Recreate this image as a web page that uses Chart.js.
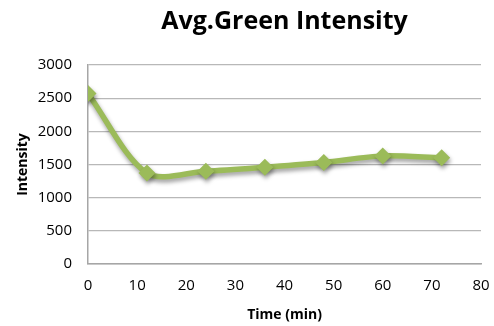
<!DOCTYPE html>
<html>
<head>
<meta charset="utf-8">
<script src="https://cdn.jsdelivr.net/npm/chart.js@4.4.1/dist/chart.umd.min.js"></script>
<style>
  html, body { margin: 0; padding: 0; background: #ffffff; }
  #wrap { width: 494px; height: 326px; }
</style>
</head>
<body>
<div id="wrap"><canvas id="chart" width="494" height="326"></canvas></div>
<script>
// Average green intensity over time
const timeMin = [0, 12, 24, 36, 48, 60, 72];
const avgGreen = [2570, 1370, 1400, 1460, 1530, 1630, 1600];
const xTicks = [0, 10, 20, 30, 40, 50, 60, 70, 80];
const yTicks = [0, 500, 1000, 1500, 2000, 2500, 3000];

const GREEN = '#9bbb59';
const FONT = '"Open Sans", Lato, sans-serif';

// soft drop shadow under the series line and markers
const seriesShadow = {
  id: 'seriesShadow',
  beforeDatasetsDraw(chart) {
    const ctx = chart.ctx;
    ctx.save();
    ctx.shadowColor = 'rgba(0,0,0,0.38)';
    ctx.shadowBlur = 4;
    ctx.shadowOffsetX = 1;
    ctx.shadowOffsetY = 3;
  },
  afterDatasetsDraw(chart) {
    chart.ctx.restore();
  }
};

new Chart(document.getElementById('chart'), {
  type: 'line',
  data: {
    datasets: [{
      label: 'Avg. Green',
      data: timeMin.map((t, i) => ({ x: t, y: avgGreen[i] })),
      borderColor: GREEN,
      backgroundColor: GREEN,
      borderWidth: 5.5,
      tension: 0.3,
      pointStyle: 'rectRot',
      pointRadius: 8.5,
      pointHoverRadius: 8.5,
      pointBorderWidth: 0,
      pointBackgroundColor: GREEN,
      fill: false
    }]
  },
  options: {
    responsive: false,
    animation: false,
    events: [],
    layout: { padding: { top: 0, right: 13, bottom: 0, left: 0 } },
    plugins: {
      legend: { display: false },
      tooltip: { enabled: false },
      title: {
        display: true,
        fullSize: false,
        text: 'Avg.Green Intensity',
        color: '#000000',
        font: { family: FONT, size: 25, weight: 'bold', lineHeight: 1.2 },
        padding: { top: 7, bottom: 28 }
      }
    },
    scales: {
      x: {
        type: 'linear',
        min: 0,
        max: 80,
        afterBuildTicks(scale) { scale.ticks = xTicks.map(v => ({ value: v })); },
        afterFit(scale) {
          scale.height = 62;
          scale.paddingLeft = 0;
          scale.paddingRight = 0;
        },
        grid: { display: false, drawTicks: false },
        border: { display: true, color: '#a6a6a6', width: 1.5 },
        ticks: {
          color: '#000000',
          padding: 13,
          maxRotation: 0,
          font: { family: FONT, size: 15 },
          callback: v => String(v)
        },
        title: {
          display: true,
          text: 'Time (min)',
          color: '#000000',
          font: { family: FONT, size: 14, weight: 'bold' },
          padding: { top: 0, bottom: 3 }
        }
      },
      y: {
        type: 'linear',
        min: 0,
        max: 3000,
        afterBuildTicks(scale) { scale.ticks = yTicks.map(v => ({ value: v })); },
        afterFit(scale) { scale.width = 88; },
        grid: { color: '#b8b8b8', lineWidth: 1.2, drawTicks: false },
        border: { display: true, color: '#a6a6a6', width: 1.5 },
        ticks: {
          color: '#000000',
          padding: 16,
          font: { family: FONT, size: 15 },
          callback: v => String(v)
        },
        title: {
          display: true,
          text: 'Intensity',
          color: '#000000',
          font: { family: FONT, size: 14, weight: 'bold' },
          padding: { top: 15, bottom: 0 }
        }
      }
    }
  },
  plugins: [seriesShadow]
});
</script>
</body>
</html>
